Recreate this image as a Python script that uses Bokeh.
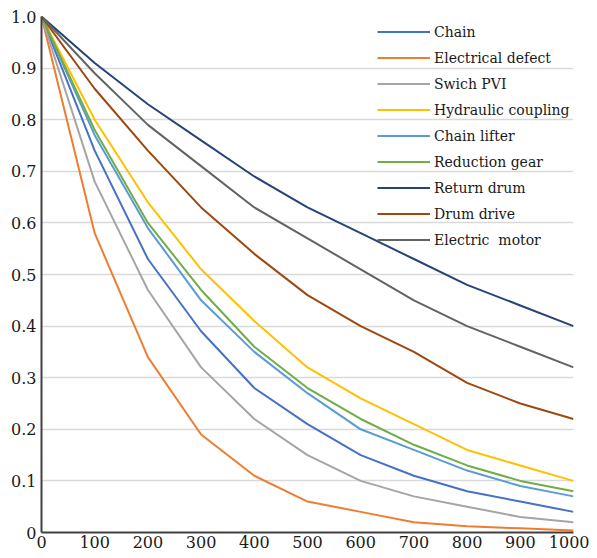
from bokeh.plotting import figure
from bokeh.models import FixedTicker, Legend, LegendItem
from bokeh.embed import file_html
from bokeh.resources import INLINE

hours = [0, 100, 200, 300, 400, 500, 600, 700, 800, 900, 1000]

chain = [1.0, 0.74, 0.53, 0.39, 0.28, 0.21, 0.15, 0.11, 0.08, 0.06, 0.04]
electrical_defect = [1.0, 0.58, 0.34, 0.19, 0.11, 0.06, 0.04, 0.02, 0.012, 0.008, 0.004]
swich_pvi = [1.0, 0.68, 0.47, 0.32, 0.22, 0.15, 0.10, 0.07, 0.05, 0.03, 0.02]
hydraulic_coupling = [1.0, 0.80, 0.64, 0.51, 0.41, 0.32, 0.26, 0.21, 0.16, 0.13, 0.10]
chain_lifter = [1.0, 0.77, 0.59, 0.45, 0.35, 0.27, 0.20, 0.16, 0.12, 0.09, 0.07]
reduction_gear = [1.0, 0.78, 0.60, 0.47, 0.36, 0.28, 0.22, 0.17, 0.13, 0.10, 0.08]
return_drum = [1.0, 0.91, 0.83, 0.76, 0.69, 0.63, 0.58, 0.53, 0.48, 0.44, 0.40]
drum_drive = [1.0, 0.86, 0.74, 0.63, 0.54, 0.46, 0.40, 0.35, 0.29, 0.25, 0.22]
electric_motor = [1.0, 0.89, 0.79, 0.71, 0.63, 0.57, 0.51, 0.45, 0.40, 0.36, 0.32]

series_names = ["Chain", "Electrical defect", "Swich PVI", "Hydraulic coupling",
                "Chain lifter", "Reduction gear", "Return drum", "Drum drive", "Electric  motor"]
series_values = [chain, electrical_defect, swich_pvi, hydraulic_coupling,
                 chain_lifter, reduction_gear, return_drum, drum_drive, electric_motor]
series_colors = ["#4472C4", "#ED7D31", "#A5A5A5", "#FFC000", "#5B9BD5",
                 "#70AD47", "#264478", "#9E480E", "#636363"]

y_ticks = [0, 0.1, 0.2, 0.3, 0.4, 0.5, 0.6, 0.7, 0.8, 0.9, 1.0]
y_tick_labels = ["0", "0.1", "0.2", "0.3", "0.4", "0.5", "0.6", "0.7", "0.8", "0.9", "1.0"]

FONT = "DejaVu Serif"

p = figure(width=589, height=550, output_backend="svg", toolbar_location=None,
           x_range=(0, 1000), y_range=(0, 1.0),
           min_border_left=41, min_border_right=16, min_border_top=16, min_border_bottom=18)
p.outline_line_color = None
p.background_fill_color = "white"

items = []
for name, vals, col in zip(series_names, series_values, series_colors):
    r = p.line(hours, vals, line_color=col, line_width=2)
    items.append(LegendItem(label=name, renderers=[r]))

p.xaxis.ticker = FixedTicker(ticks=hours)
p.yaxis.ticker = FixedTicker(ticks=y_ticks)
p.yaxis.major_label_overrides = {t: l for t, l in zip(y_ticks, y_tick_labels)}
p.xaxis.major_label_overrides = {h: str(h) for h in hours}

for ax in (p.xaxis, p.yaxis):
    ax.major_tick_in = 0
    ax.major_tick_out = 0
    ax.minor_tick_in = 0
    ax.minor_tick_out = 0
    ax.axis_line_color = "#404040"
    ax.axis_line_width = 2
    ax.major_label_text_font = FONT
    ax.major_label_text_font_size = "16px"
    ax.major_label_text_color = "#1a1a1a"
p.xaxis.major_label_standoff = 3
p.yaxis.major_label_standoff = 5

p.xgrid.grid_line_color = None
p.ygrid.grid_line_color = "#D9D9D9"
p.ygrid.grid_line_width = 1.5

legend = Legend(items=items, location=(336, 280))
legend.border_line_alpha = 0
legend.background_fill_alpha = 0
legend.padding = 0
legend.margin = 0
legend.spacing = 1
legend.glyph_width = 53
legend.glyph_height = 25
legend.label_height = 25
legend.label_standoff = 4
legend.label_text_font = FONT
legend.label_text_font_size = "14px"
legend.label_text_color = "#1a1a1a"
p.add_layout(legend, "center")

open("out.html", "w").write(file_html(p, INLINE))
